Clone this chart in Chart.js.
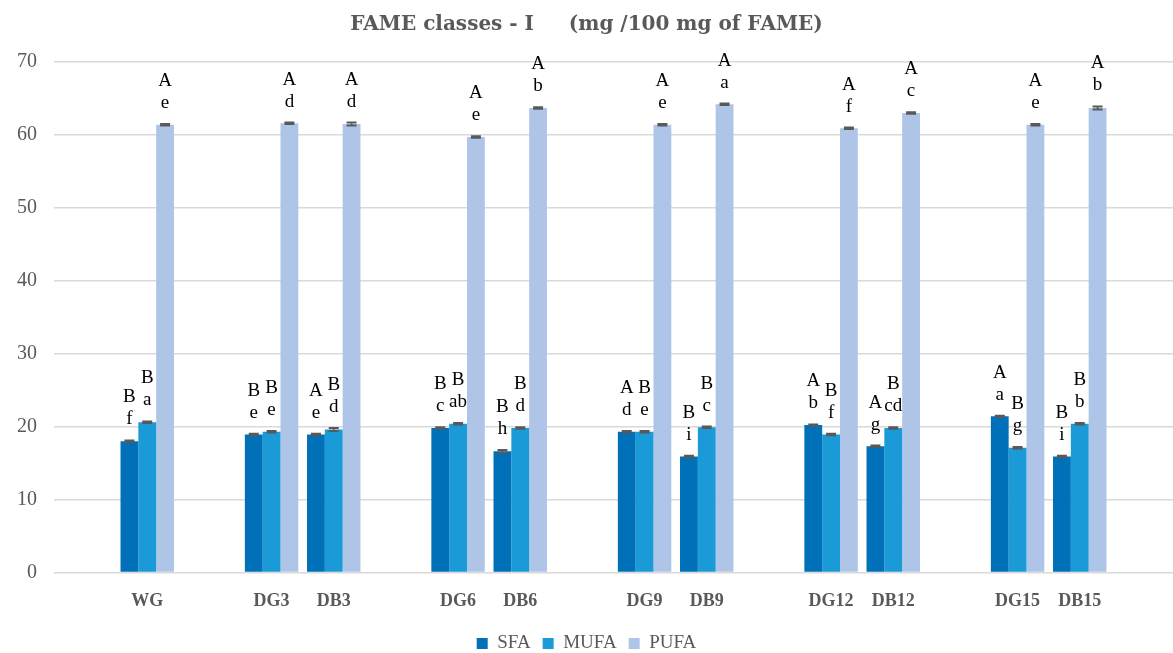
<!DOCTYPE html>
<html>
<head>
<meta charset="utf-8">
<script src="https://cdn.jsdelivr.net/npm/chart.js@4.4.0/dist/chart.umd.min.js"></script>
<style>
  html, body { margin: 0; padding: 0; background: #ffffff; }
  #wrap { width: 1173px; height: 653px; }
</style>
</head>
<body>
<div id="wrap"><canvas id="chart-0" width="1173" height="653"></canvas></div>
<script>
// categories, empty strings are the gaps between the groups
var categories = ["", "WG", "", "DG3", "DB3", "", "DG6", "DB6", "", "DG9", "DB9", "", "DG12", "DB12", "", "DG15", "DB15", ""];

var sfa  = [null, 18.0, null, 18.9, 18.9, null, 19.8, 16.6, null, 19.3, 15.9, null, 20.2, 17.3, null, 21.4, 15.9, null];
var mufa = [null, 20.6, null, 19.3, 19.6, null, 20.4, 19.8, null, 19.3, 19.9, null, 18.9, 19.8, null, 17.1, 20.4, null];
var pufa = [null, 61.4, null, 61.6, 61.5, null, 59.7, 63.7, null, 61.4, 64.2, null, 60.9, 63.0, null, 61.4, 63.7, null];

var sfaErr  = [null, 0.1, null, 0.1, 0.1, null, 0.1, 0.2, null, 0.1, 0.1, null, 0.1, 0.1, null, 0.1, 0.1, null];
var mufaErr = [null, 0.1, null, 0.1, 0.2, null, 0.1, 0.1, null, 0.1, 0.1, null, 0.1, 0.1, null, 0.1, 0.1, null];
var pufaErr = [null, 0.1, null, 0.1, 0.2, null, 0.1, 0.1, null, 0.1, 0.1, null, 0.1, 0.1, null, 0.1, 0.2, null];

// significance letters: upper line / lower line
var sfaUp   = ["", "B", "", "B", "A", "", "B", "B", "", "A", "B", "", "A", "A", "", "A", "B", ""];
var sfaLow  = ["", "f", "", "e", "e", "", "c", "h", "", "d", "i", "", "b", "g", "", "a", "i", ""];
var mufaUp  = ["", "B", "", "B", "B", "", "B", "B", "", "B", "B", "", "B", "B", "", "B", "B", ""];
var mufaLow = ["", "a", "", "e", "d", "", "ab", "d", "", "e", "c", "", "f", "cd", "", "g", "b", ""];
var pufaUp  = ["", "A", "", "A", "A", "", "A", "A", "", "A", "A", "", "A", "A", "", "A", "A", ""];
var pufaLow = ["", "e", "", "d", "d", "", "e", "b", "", "e", "a", "", "f", "c", "", "e", "b", ""];

var errs = [sfaErr, mufaErr, pufaErr];
var ups = [sfaUp, mufaUp, pufaUp];
var lows = [sfaLow, mufaLow, pufaLow];

var serif = "'Liberation Serif', 'DejaVu Serif', serif";

var extrasPlugin = {
    id: "extras",
    afterDatasetsDraw: function (chart) {
        var ctx = chart.ctx;
        var yScale = chart.scales.y;
        ctx.save();
        for (var d = 0; d < chart.data.datasets.length; d++) {
            var meta = chart.getDatasetMeta(d);
            var vals = chart.data.datasets[d].data;
            for (var i = 0; i < vals.length; i++) {
                if (vals[i] === null) continue;
                var bar = meta.data[i];
                var e = errs[d][i];
                var yHi = yScale.getPixelForValue(vals[i] + e);
                var yLo = yScale.getPixelForValue(vals[i] - e);
                // error bar
                ctx.strokeStyle = "#595959";
                ctx.lineWidth = 1.5;
                ctx.beginPath();
                ctx.moveTo(bar.x, yHi);
                ctx.lineTo(bar.x, yLo);
                ctx.stroke();
                ctx.lineWidth = 2;
                ctx.beginPath();
                ctx.moveTo(bar.x - 5, yHi);
                ctx.lineTo(bar.x + 5, yHi);
                ctx.moveTo(bar.x - 5, yLo);
                ctx.lineTo(bar.x + 5, yLo);
                ctx.stroke();
                // letters
                ctx.fillStyle = "#000000";
                ctx.font = "19px " + serif;
                ctx.textAlign = "center";
                ctx.textBaseline = "middle";
                ctx.fillText(lows[d][i], bar.x, yHi - 21);
                ctx.fillText(ups[d][i], bar.x, yHi - 43);
            }
        }
        ctx.restore();
    }
};

var ctx0 = document.getElementById("chart-0");
var myChart = new Chart(ctx0, {
    type: "bar",
    data: {
        labels: categories,
        datasets: [
            { label: "SFA", data: sfa, backgroundColor: "#0070b8", borderWidth: 0 },
            { label: "MUFA", data: mufa, backgroundColor: "#1a9ad6", borderWidth: 0 },
            { label: "PUFA", data: pufa, backgroundColor: "#aec5e8", borderWidth: 0 }
        ]
    },
    options: {
        responsive: false,
        animation: false,
        maintainAspectRatio: false,
        layout: { padding: { left: 0, right: 0, top: 11, bottom: -10 } },
        datasets: { bar: { categoryPercentage: 0.86, barPercentage: 1.0 } },
        plugins: {
            title: {
                display: true,
                text: "FAME classes - I     (mg /100 mg of FAME)",
                color: "#595959",
                font: { family: "'DejaVu Serif', serif", size: 20, weight: "bold" },
                padding: { top: 2, bottom: 25 }
            },
            legend: {
                position: "bottom",
                labels: {
                    boxWidth: 11,
                    boxHeight: 11,
                    color: "#595959",
                    font: { family: serif, size: 19 },
                    padding: 12
                }
            },
            tooltip: { enabled: false }
        },
        scales: {
            x: {
                grid: { display: false },
                border: { display: false },
                ticks: {
                    color: "#595959",
                    font: { family: serif, size: 18, weight: "bold" },
                    padding: 10,
                    autoSkip: false,
                    maxRotation: 0
                }
            },
            y: {
                min: 0,
                max: 70,
                ticks: {
                    stepSize: 10,
                    color: "#595959",
                    font: { family: serif, size: 20 },
                    padding: 17
                },
                grid: { color: "#d9d9d9", lineWidth: 1.5, drawTicks: false },
                border: { display: false }
            }
        }
    },
    plugins: [extrasPlugin]
});
</script>
</body>
</html>
